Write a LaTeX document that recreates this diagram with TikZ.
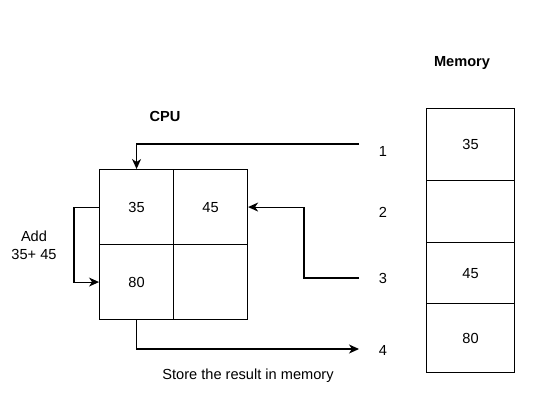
\documentclass[tikz,border=0pt]{standalone}
\usepackage{fontspec}
\setmainfont{Liberation Sans}
\usetikzlibrary{arrows.meta}
\begin{document}
\begin{tikzpicture}[x=1pt,y=-1pt,
 txt/.style={font=\fontsize{14.6}{18}\selectfont, inner sep=0pt, align=center},
 cell/.style={txt, draw, line width=1.1pt, minimum width=74pt, minimum height=75pt, anchor=north west},
 mcell/.style={txt, draw, line width=1.1pt, minimum width=88pt, anchor=north west},
 conn/.style={line width=1.1pt, -{Stealth[length=10pt,width=9pt,inset=3pt]}},
 ttl/.style={txt, font=\fontsize{14.6}{18}\selectfont\bfseries}
]
\useasboundingbox (0,0) rectangle (554,408);
% CPU grid
\node[cell] (c1) at (99,169) {35};
\node[cell] (c2) at (173,169) {45};
\node[cell] (c3) at (99,244) {80};
\node[cell] (c4) at (173,244) {};
% Memory
\node[mcell, minimum height=72pt] (m1) at (426,108) {35};
\node[mcell, minimum height=62pt] (m2) at (426,180) {};
\node[mcell, minimum height=61pt] (m3) at (426,242) {45};
\node[mcell, minimum height=69pt] (m4) at (426,303) {80};
% titles
\node[ttl] (cpu) at (165,116) {CPU};
\node[ttl] (mem) at (462,63) {Memory};
% numbers
\node[txt] (n1) at (383,151) {1};
\node[txt] (n2) at (383,212) {2};
\node[txt] (n3) at (383,278) {3};
\node[txt] (n4) at (383,350) {4};
% other labels
\node[txt] (add) at (34,245) {Add\\35+ 45};
\node[txt] (store) at (248,376) {Store the result in memory};
% connector end points
\coordinate (p1) at (359,144);
\coordinate (p3) at (359,278);
\coordinate (p4) at (359,349);
% connectors
\draw[conn] (p1) -| (c1.north);
\draw[conn] (p3) -- (304,278) |- (c2.east);
\draw[conn] (c3.south) |- (p4);
\draw[conn] (c1.west) -- ++(-25,0) |- (c3.west);
\end{tikzpicture}
\end{document}
